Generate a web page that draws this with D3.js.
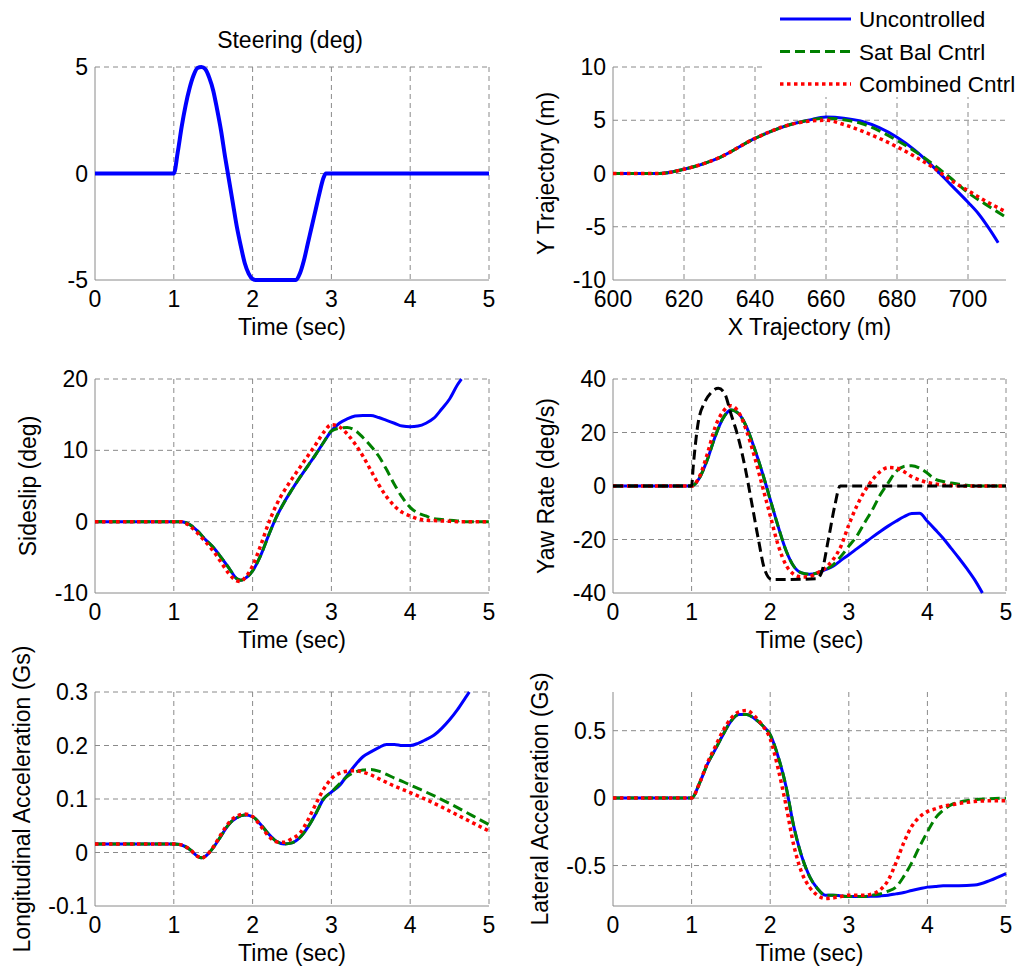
<!DOCTYPE html>
<html><head><meta charset="utf-8">
<script src="https://cdn.jsdelivr.net/npm/d3@7"></script>
<style>body{margin:0;background:#fff}svg{display:block}text{font-family:"Liberation Sans",Arial,sans-serif;fill:#000}</style>
</head><body>
<svg id="c" width="1016" height="967"></svg>
<script>
// ---------- DATA ----------
const timeTicks = [0,1,2,3,4,5];
const seriesNames = ["Uncontrolled","Sat Bal Cntrl","Combined Cntrl"];

// Steering (deg)
const steerT = [0,1.0,1.05,1.1,1.15,1.2,1.25,1.3,1.35,1.4,1.45,1.5,1.55,1.6,1.65,1.7,1.75,1.8,1.85,1.9,1.95,2.0,2.05,2.55,2.6,2.65,2.7,2.75,2.8,2.85,2.9,2.93,5];
const steerV = [0,0,1.0,2.2,3.2,4.0,4.6,4.95,5,4.9,4.5,3.9,3.0,2.0,0.8,-0.3,-1.4,-2.5,-3.4,-4.2,-4.7,-4.95,-5,-5,-4.7,-4.1,-3.3,-2.5,-1.7,-0.9,-0.2,0,0];
const steerTicks = [-5,0,5];

// Trajectory (m)
const trajXU = [600,613,620,630,640,650,655,660,665,670,675,680,685,690,695,700,703,706,708.5];
const trajYU = [0,0,0.4,1.5,3.3,4.6,5.0,5.3,5.2,4.9,4.3,3.4,2.2,0.7,-1.0,-2.7,-3.8,-5.2,-6.5];
const trajXS = [600,613,620,630,640,650,655,660,665,670,675,680,685,690,695,700,705,710.7];
const trajYS = [0,0,0.4,1.5,3.3,4.6,5.0,5.2,5.05,4.7,4.0,3.1,2.1,0.9,-0.4,-1.8,-2.9,-4.1];
const trajXC = [600,613,620,630,640,650,655,660,665,670,675,680,685,690,695,700,705,710.7];
const trajYC = [0,0,0.4,1.5,3.3,4.6,4.9,5.0,4.6,4.0,3.3,2.5,1.6,0.6,-0.6,-1.6,-2.6,-3.6];
const trajXTicks = [600,620,640,660,680,700];
const trajYTicks = [-10,-5,0,5,10];

// Sideslip (deg)
const slipT  = [0,1.1,1.2,1.3,1.4,1.5,1.6,1.7,1.8,1.85,1.9,2.0,2.1,2.2,2.3,2.4,2.5,2.6,2.7,2.8,2.9,3.0,3.1,3.2,3.3,3.4,3.5,3.6,3.7,3.8,3.9,4.0,4.1,4.2,4.3,4.4,4.5,4.6,4.65];
const slipU  = [0,0,-0.4,-1.3,-2.5,-3.6,-5.0,-6.5,-8.0,-8.2,-8.0,-6.9,-4.8,-2.0,0.6,2.7,4.5,6.2,7.8,9.4,11.1,12.7,13.8,14.4,14.8,14.9,14.9,14.6,14.2,13.8,13.4,13.3,13.4,13.8,14.5,15.8,17.2,19.2,20];
const slipT2 = [0,1.1,1.2,1.3,1.4,1.5,1.6,1.7,1.8,1.85,1.9,2.0,2.1,2.2,2.3,2.4,2.5,2.6,2.7,2.8,2.9,3.0,3.1,3.2,3.3,3.4,3.5,3.6,3.7,3.8,3.9,4.0,4.1,4.2,4.3,4.4,4.5,4.6,4.7,5.0];
const slipS  = [0,0,-0.4,-1.3,-2.5,-3.6,-5.0,-6.5,-8.0,-8.2,-8.0,-6.9,-4.8,-2.0,0.6,2.7,4.5,6.2,7.8,9.4,11.1,12.7,13.1,13.2,12.8,11.8,10.6,9.2,7.3,5.2,3.4,2.0,1.2,0.8,0.4,0.3,0.2,0.1,0,0];
const slipC  = [0,0,-0.6,-1.6,-2.8,-4.1,-5.7,-7.3,-8.3,-8.4,-7.9,-6.2,-3.4,-0.3,2.3,4.3,6.0,7.6,9.2,10.8,12.5,13.6,13.3,12.3,10.9,9.2,7.2,5.2,3.5,2.2,1.3,0.8,0.4,0.2,0.15,0.1,0.05,0,0,0];
const slipTicks = [-10,0,10,20];

// Yaw rate (deg/s)
const yawT   = [0,1.0,1.1,1.2,1.3,1.4,1.5,1.6,1.7,1.8,1.9,2.0,2.1,2.2,2.3,2.4,2.5,2.6,2.7,2.8,2.9,3.0,3.1,3.2,3.3,3.4,3.5,3.6,3.7,3.8,3.9,4.0,4.1,4.2,4.3,4.4,4.5,4.6,4.7,5.0];
const yawU   = [0,0,3,9.8,18.5,25.3,28.4,27,22,14,5,-5,-15,-24,-30,-32.5,-33,-32.5,-31.3,-30,-27.8,-25.7,-23.5,-21.3,-19.1,-17,-15,-13.2,-11.5,-10.3,-10.2,-13.2,-16.3,-19.5,-23.2,-26.9,-30.8,-35,-40,null];
const yawS   = [0,0,3,9.8,18.5,25.3,28.4,27,22,14,5,-5,-15,-24,-30,-32.5,-33,-32.5,-31.3,-29.5,-26.3,-22.5,-18.8,-13.8,-8.9,-3.3,1.1,5.4,7.3,7.6,6.7,4.8,2.5,1.7,1.1,0.7,0.3,0,0,0];
const yawC   = [0,0,3.5,12,22,27.8,30,27.5,20.5,11,0,-11,-22,-29.5,-33,-34,-33.8,-32.5,-30.7,-27.5,-22.5,-14.5,-7.6,-2,2.3,5.4,6.9,6.7,5.4,3.5,2.3,1.3,0.8,0.4,0.2,0.1,0,0,0,0];
const yawRefT = [0,1.0,1.02,1.08,1.17,1.25,1.34,1.42,1.5,1.59,1.68,1.76,1.85,1.93,2.02,2.59,2.65,2.74,2.82,2.89,5.0];
const yawRef  = [0,0,7,23,31.5,35,36.5,34.6,27,18.5,7,-5.5,-20,-31.3,-35,-34.7,-32.6,-20,-7.6,0,0];
const yawTicks = [-40,-20,0,20,40];

// Longitudinal acceleration (Gs)
const lonT = [0,1.0,1.1,1.2,1.3,1.35,1.4,1.5,1.6,1.7,1.8,1.9,2.0,2.1,2.2,2.3,2.4,2.5,2.6,2.7,2.8,2.9,3.0,3.1,3.2,3.3,3.4,3.5,3.6,3.7,3.8,3.9,4.0,4.1,4.2,4.3,4.4,4.5,4.6,4.7,4.75];
const lonU = [0.016,0.016,0.014,0.006,-0.007,-0.01,-0.007,0.009,0.031,0.053,0.065,0.07,0.067,0.053,0.035,0.021,0.016,0.018,0.028,0.047,0.072,0.1,0.113,0.125,0.144,0.163,0.179,0.188,0.196,0.202,0.202,0.2,0.2,0.204,0.211,0.219,0.232,0.248,0.267,0.289,0.3];
const lonT2 = [0,1.0,1.1,1.2,1.3,1.35,1.4,1.5,1.6,1.7,1.8,1.9,2.0,2.1,2.2,2.3,2.4,2.5,2.6,2.7,2.8,2.9,3.0,3.1,3.2,3.3,3.4,3.5,3.6,3.7,3.8,3.9,4.0,4.2,4.4,4.6,4.8,5.0];
const lonS = [0.016,0.016,0.014,0.006,-0.007,-0.01,-0.007,0.009,0.031,0.053,0.065,0.07,0.067,0.053,0.035,0.021,0.016,0.018,0.028,0.047,0.072,0.1,0.113,0.128,0.142,0.15,0.154,0.155,0.152,0.146,0.139,0.133,0.126,0.113,0.099,0.084,0.068,0.052];
const lonC = [0.016,0.016,0.014,0.006,-0.007,-0.011,-0.007,0.01,0.034,0.056,0.068,0.072,0.067,0.05,0.031,0.02,0.019,0.026,0.036,0.06,0.09,0.118,0.138,0.148,0.152,0.153,0.15,0.145,0.138,0.131,0.124,0.118,0.112,0.099,0.085,0.07,0.055,0.04];
const lonTicks = [-0.1,0,0.1,0.2,0.3];

// Lateral acceleration (Gs)
const latT = [0,1.0,1.1,1.2,1.3,1.4,1.5,1.6,1.7,1.8,1.9,2.0,2.1,2.2,2.3,2.4,2.5,2.6,2.7,2.8,2.9,3.0,3.1,3.2,3.3,3.4,3.5,3.6,3.7,3.8,3.9,4.0,4.1,4.2,4.3,4.4,4.6,4.8,5.0];
const latU = [0,0,0.11,0.25,0.36,0.47,0.57,0.62,0.62,0.59,0.54,0.47,0.31,0.09,-0.21,-0.43,-0.58,-0.67,-0.72,-0.72,-0.725,-0.73,-0.73,-0.73,-0.728,-0.725,-0.72,-0.71,-0.7,-0.685,-0.672,-0.66,-0.655,-0.65,-0.65,-0.65,-0.645,-0.61,-0.56];
const latS = [0,0,0.11,0.25,0.36,0.47,0.57,0.62,0.62,0.59,0.54,0.47,0.31,0.09,-0.21,-0.43,-0.58,-0.67,-0.72,-0.72,-0.725,-0.73,-0.73,-0.73,-0.72,-0.71,-0.69,-0.66,-0.58,-0.48,-0.36,-0.25,-0.15,-0.09,-0.05,-0.03,-0.012,-0.005,0];
const latC = [0,0,0.11,0.26,0.38,0.5,0.59,0.64,0.65,0.61,0.54,0.44,0.22,-0.05,-0.35,-0.55,-0.66,-0.72,-0.745,-0.74,-0.73,-0.72,-0.72,-0.72,-0.71,-0.68,-0.61,-0.48,-0.33,-0.21,-0.14,-0.1,-0.08,-0.06,-0.05,-0.04,-0.025,-0.02,-0.02];
const latTicks = [-0.5,0,0.5];

// ---------- STYLES ----------
const styles = {
  U: {color:"#0000ff", dash:null, width:3},
  S: {color:"#008000", dash:"10,5", width:3},
  C: {color:"#ff0000", dash:"3.5,3.5", width:3.5},
  R: {color:"#000000", dash:"10,5", width:3}
};
const pairs = (xs, ys) => xs.map((x,i)=>[x, ys[i]]);
const FS = 23;

const panels = [
  {L:95, R:489, T:67, B:280, xd:[0,5], yd:[-5,5], xt:timeTicks, yt:steerTicks, title:"Steering (deg)", xl:"Time (sec)", yl:null,
   series:[{d:pairs(steerT,steerV), s:"U", w:4}]},
  {L:613, R:1006, T:67, B:280, xd:[600,710.7], yd:[-10,10], xt:trajXTicks, yt:trajYTicks, xl:"X Trajectory (m)", yl:"Y Trajectory (m)", ylx:546,
   series:[{d:pairs(trajXU,trajYU), s:"U"},{d:pairs(trajXS,trajYS), s:"S"},{d:pairs(trajXC,trajYC), s:"C"}]},
  {L:95, R:489, T:379, B:593, xd:[0,5], yd:[-10,20], xt:timeTicks, yt:slipTicks, xl:"Time (sec)", yl:"Sideslip (deg)", ylx:28,
   series:[{d:pairs(slipT,slipU), s:"U"},{d:pairs(slipT2,slipS), s:"S"},{d:pairs(slipT2,slipC), s:"C"}]},
  {L:613, R:1006, T:379, B:593, xd:[0,5], yd:[-40,40], xt:timeTicks, yt:yawTicks, xl:"Time (sec)", yl:"Yaw Rate (deg/s)", ylx:546,
   series:[{d:pairs(yawT,yawU), s:"U"},{d:pairs(yawT,yawS), s:"S"},{d:pairs(yawT,yawC), s:"C"},{d:pairs(yawRefT,yawRef), s:"R"}]},
  {L:95, R:489, T:692, B:906, xd:[0,5], yd:[-0.1,0.3], xt:timeTicks, yt:lonTicks, xl:"Time (sec)", yl:"Longitudinal Acceleration (Gs)", ylx:22,
   series:[{d:pairs(lonT,lonU), s:"U"},{d:pairs(lonT2,lonS), s:"S"},{d:pairs(lonT2,lonC), s:"C"}]},
  {L:613, R:1006, T:692, B:906, xd:[0,5], yd:[-0.8,0.787], xt:timeTicks, yt:latTicks, xl:"Time (sec)", yl:"Lateral Acceleration (Gs)", ylx:540,
   series:[{d:pairs(latT,latU), s:"U"},{d:pairs(latT,latS), s:"S"},{d:pairs(latT,latC), s:"C"}]}
];

const svg = d3.select("#c");
const fmt = v => d3.format("~g")(v).replace("−","-");
const axisCol = "#8a8a8a";

panels.forEach((p, pi) => {
  const x = d3.scaleLinear().domain(p.xd).range([p.L, p.R]);
  const y = d3.scaleLinear().domain(p.yd).range([p.B, p.T]);
  const g = svg.append("g");
  const clipId = "clip" + pi;
  svg.append("clipPath").attr("id", clipId).append("rect")
    .attr("x", p.L - 3).attr("y", p.T - 3).attr("width", p.R - p.L + 6).attr("height", p.B - p.T + 6);

  // grid
  g.selectAll(".gx").data(p.xt.filter(v => v !== p.xd[0])).join("line")
    .attr("x1", d => x(d)).attr("x2", d => x(d)).attr("y1", p.T).attr("y2", p.B)
    .attr("stroke", axisCol).attr("stroke-width", 1).attr("stroke-dasharray", "5,4");
  g.selectAll(".gy").data(p.yt.filter(v => v !== p.yd[0])).join("line")
    .attr("y1", d => y(d)).attr("y2", d => y(d)).attr("x1", p.L).attr("x2", p.R)
    .attr("stroke", axisCol).attr("stroke-width", 1).attr("stroke-dasharray", "5,4");

  // axes lines
  g.append("line").attr("x1", p.L).attr("x2", p.L).attr("y1", p.T).attr("y2", p.B).attr("stroke", axisCol);
  g.append("line").attr("x1", p.L).attr("x2", p.R).attr("y1", p.B).attr("y2", p.B).attr("stroke", axisCol);

  // tick labels
  g.selectAll(".tx").data(p.xt).join("text")
    .attr("x", d => x(d)).attr("y", p.B + 27).attr("text-anchor", "middle")
    .attr("font-size", FS).text(d => fmt(d));
  g.selectAll(".ty").data(p.yt).join("text")
    .attr("x", p.L - 7).attr("y", d => y(d) + 8).attr("text-anchor", "end")
    .attr("font-size", FS).text(d => fmt(d));

  // labels
  if (p.xl) g.append("text").attr("x", (p.L + p.R) / 2).attr("y", p.B + 55)
    .attr("text-anchor", "middle").attr("font-size", FS).text(p.xl);
  if (p.title) g.append("text").attr("x", (p.L + p.R) / 2 - 2).attr("y", 48)
    .attr("text-anchor", "middle").attr("font-size", FS).text(p.title);
  if (p.yl) g.append("text").attr("transform", `translate(${p.ylx + 8},${(p.T + p.B) / 2}) rotate(-90)`)
    .attr("text-anchor", "middle").attr("font-size", FS).text(p.yl);

  // series
  const line = d3.line().defined(d => d[1] !== null).x(d => x(d[0])).y(d => y(d[1])).curve(d3.curveMonotoneX);
  const sg = g.append("g").attr("clip-path", `url(#${clipId})`);
  p.series.forEach(s => {
    const st = styles[s.s];
    sg.append("path").attr("d", line(s.d)).attr("fill", "none")
      .attr("stroke", st.color).attr("stroke-width", s.w || st.width)
      .attr("stroke-dasharray", st.dash).attr("stroke-linejoin", "round");
  });
});

// legend
const lg = svg.append("g");
lg.append("rect").attr("x", 765).attr("y", 0).attr("width", 251).attr("height", 97).attr("fill", "#fff");
const legKeys = ["U","S","C"];
legKeys.forEach((k, i) => {
  const yy = 19 + i * 32.5;
  const st = styles[k];
  lg.append("line").attr("x1", 780).attr("x2", 851).attr("y1", yy).attr("y2", yy)
    .attr("stroke", st.color).attr("stroke-width", st.width).attr("stroke-dasharray", st.dash);
  lg.append("text").attr("x", 859).attr("y", yy + 8).attr("font-size", 22.5).text(seriesNames[i]);
});
</script>
</body></html>
